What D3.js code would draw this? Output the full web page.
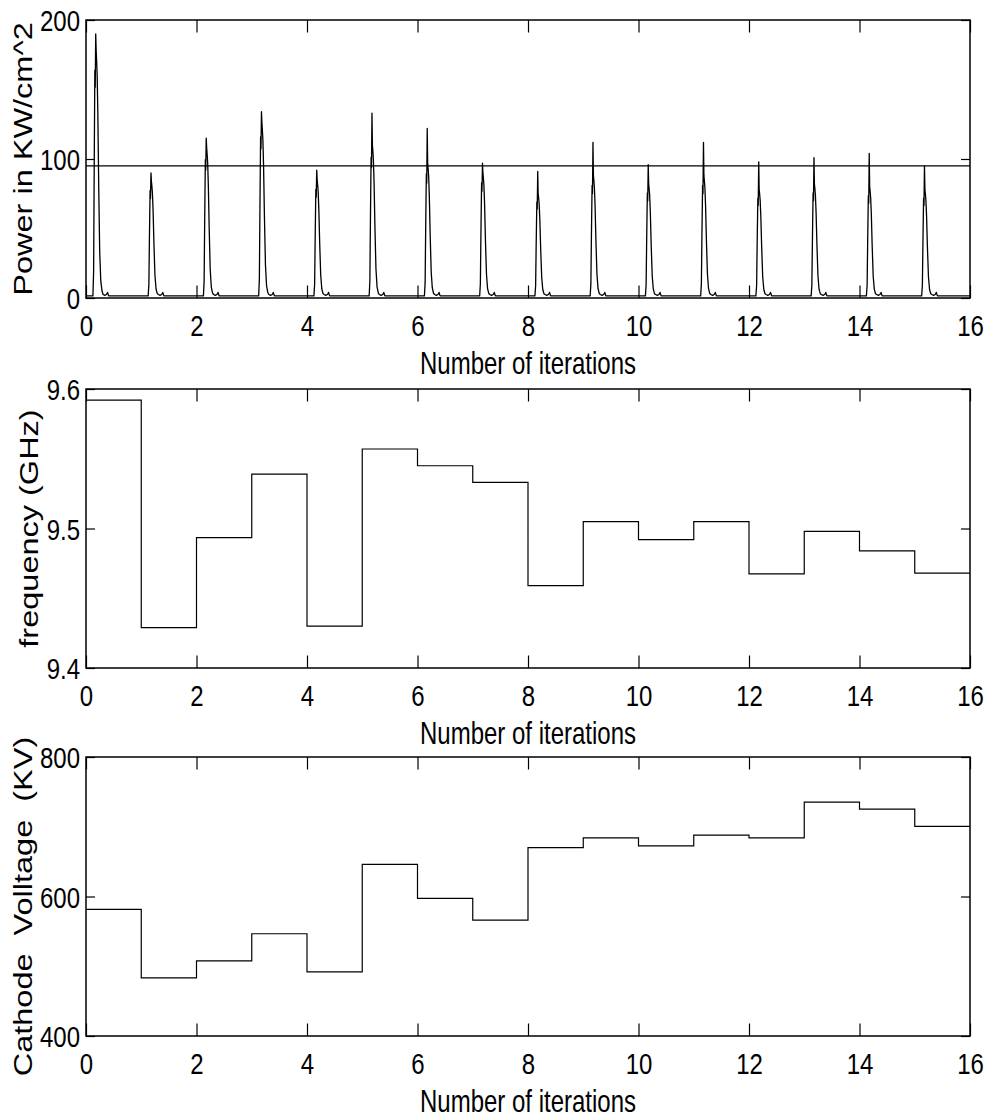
<!DOCTYPE html>
<html><head><meta charset="utf-8">
<script src="https://cdn.jsdelivr.net/npm/d3@7"></script>
<style>
body{margin:0;background:#fff}
text{font-family:"Liberation Sans",Arial,Helvetica,sans-serif;fill:#000;white-space:pre}
</style>
</head><body>
<svg id="chart" width="988" height="1119"></svg>
<script>
// ---------- data ----------
const xTicks = [0, 2, 4, 6, 8, 10, 12, 14, 16];
const xDomain = [0, 16];

// top panel: one pulse per iteration
const pulseIteration = [0, 1, 2, 3, 4, 5, 6, 7, 8, 9, 10, 11, 12, 13, 14, 15];
const pulsePeaks = [190, 90, 115, 134, 92, 133, 122, 97, 91, 112, 96, 112, 98, 101, 104, 95];
const pulseDips  = [178, 84, 108, 126, 85, 110, 97, 90, 75, 88, 82, 88, 78, 82, 80, 78];
const pulseBaseline = 1.5;
const threshold = 95;
// pulse outline key points (offset in iterations, reference level, factor)
const shapeOffsets = [0.125, 0.138, 0.148, 0.160, 0.167, 0.176, 0.184, 0.192, 0.202, 0.214, 0.230, 0.248, 0.268, 0.290, 0.310, 0.340, 0.370, 0.390, 0.410];
const shapeRef     = ['b', 'd', 'd', 'd', 'd', 'p', 'd', 'd', 'd', 'd', 'd', 'd', 'd', 'd', 'b', 'b', 'b', 'b', 'b'];
const shapeFactor  = [0, 0.10, 0.50, 0.92, 0.85, 1, 1, 0.96, 0.90, 0.75, 0.45, 0.18, 0.06, 0.02, 1.0, 0.4, 1.0, 2.5, 0];
const powerTicks = [0, 100, 200];
const powerDomain = [0, 200];

// middle panel
const freqValues = [9.592, 9.429, 9.4935, 9.539, 9.430, 9.557, 9.545, 9.533, 9.459, 9.505, 9.492, 9.505, 9.4675, 9.498, 9.484, 9.468];
const freqTicks = [9.4, 9.5, 9.6];
const freqDomain = [9.4, 9.6];

// bottom panel
const voltValues = [581.6, 483.4, 507.8, 546.6, 492, 646.2, 597.4, 566.2, 670.2, 684.1, 672.6, 687.9, 684.1, 735.3, 725.3, 700.4];
const voltTicks = [400, 600, 800];
const voltDomain = [400, 800];

// ---------- layout ----------
const L = 86, R = 970;
const SY = 1.26;         // vertical stretch of the glyphs
const FS = 24;           // tick label font size
const svg = d3.select('#chart');
const x = d3.scaleLinear().domain(xDomain).range([L, R]);

function stretchedText(parent, tx, ty, str, opts) {
  const g = parent.append('g')
    .attr('transform', `translate(${tx},${ty}) scale(1,${opts.sy || SY})${opts.rotate ? ' rotate(-90)' : ''}`);
  g.append('text')
    .attr('text-anchor', opts.anchor || 'middle')
    .style('font-size', (opts.size || FS) + 'px')
    .text(str);
  return g;
}

function panel(top, bottom, yDomain, yTicks, fmt, ylabel, ylabelX, ylabelDy) {
  const y = d3.scaleLinear().domain(yDomain).range([bottom, top]);
  const g = svg.append('g');
  const capHalf = 0.716 * FS * SY / 2;

  const styleAxis = sel => {
    sel.select('.domain').remove();
    sel.selectAll('.tick line').attr('stroke', '#000').attr('stroke-width', 1.2);
  };
  // bottom axis with labels
  const ab = g.append('g').attr('transform', `translate(0,${bottom})`)
    .call(d3.axisBottom(x).tickValues(xTicks).tickSizeInner(-12.5).tickSizeOuter(0).tickFormat(d3.format('d')));
  styleAxis(ab);
  ab.selectAll('.tick text').attr('y', null).attr('dy', null).attr('fill', '#000')
    .style('font-size', FS + 'px').attr('text-anchor', 'middle')
    .attr('transform', `translate(0,38) scale(1,${SY})`);
  // top axis ticks only
  const at = g.append('g').attr('transform', `translate(0,${top})`)
    .call(d3.axisTop(x).tickValues(xTicks).tickSizeInner(-12.5).tickSizeOuter(0).tickFormat(''));
  styleAxis(at);
  // left axis with labels
  const al = g.append('g').attr('transform', `translate(${L},0)`)
    .call(d3.axisLeft(y).tickValues(yTicks).tickSizeInner(-9).tickSizeOuter(0).tickFormat(fmt));
  styleAxis(al);
  al.selectAll('.tick text').attr('x', null).attr('dy', null).attr('fill', '#000')
    .style('font-size', FS + 'px').attr('text-anchor', 'end')
    .attr('transform', `translate(-6,${capHalf}) scale(1,${SY})`);
  // right axis ticks only
  const ar = g.append('g').attr('transform', `translate(${R},0)`)
    .call(d3.axisRight(y).tickValues(yTicks).tickSizeInner(-9).tickSizeOuter(0).tickFormat(''));
  styleAxis(ar);

  // frame
  g.append('rect').attr('x', L).attr('y', top).attr('width', R - L).attr('height', bottom - top)
    .attr('fill', 'none').attr('stroke', '#000').attr('stroke-width', 1.5);

  // x label
  stretchedText(g, (L + R) / 2, bottom + 76, 'Number of iterations', { size: 24, sy: 1.3 });
  // y label
  stretchedText(g, ylabelX, (top + bottom) / 2 + ylabelDy, ylabel, { size: 25, sy: 1.3, rotate: true });
  return { g, y };
}

// ---------- top panel ----------
const p1 = panel(20, 298, powerDomain, powerTicks, d3.format('d'), 'Power in KW/cm^2', 32, 0);
const powerPts = [[0, pulseBaseline]];
pulseIteration.forEach((n, i) => {
  shapeOffsets.forEach((o, k) => {
    let v;
    if (shapeRef[k] === 'b') v = pulseBaseline + shapeFactor[k];
    else if (shapeRef[k] === 'p') v = pulsePeaks[i] * shapeFactor[k];
    else v = pulseBaseline + shapeFactor[k] * (pulseDips[i] - pulseBaseline);
    powerPts.push([n + o, v]);
  });
});
powerPts.push([16, pulseBaseline]);
p1.g.append('path').datum(powerPts)
  .attr('fill', 'none').attr('stroke', '#000').attr('stroke-width', 1.3)
  .attr('stroke-linejoin', 'round')
  .attr('d', d3.line().x(d => x(d[0])).y(d => p1.y(d[1])));
p1.g.append('path').datum(xDomain)
  .attr('fill', 'none').attr('stroke', '#000').attr('stroke-width', 1.2)
  .attr('d', d3.line().x(d => x(d)).y(() => p1.y(threshold)));

// ---------- middle panel ----------
const p2 = panel(389, 668, freqDomain, freqTicks, d3.format('.1f'), 'frequency (GHz)', 38, 0);
const freqPts = freqValues.map((v, i) => [i, v]).concat([[16, freqValues[freqValues.length - 1]]]);
p2.g.append('path').datum(freqPts)
  .attr('fill', 'none').attr('stroke', '#000').attr('stroke-width', 1.2)
  .attr('d', d3.line().curve(d3.curveStepAfter).x(d => x(d[0])).y(d => p2.y(d[1])));

// ---------- bottom panel ----------
const p3 = panel(757, 1036, voltDomain, voltTicks, d3.format('d'), 'Cathode  Volltage  (KV)', 32, 10);
const voltPts = voltValues.map((v, i) => [i, v]).concat([[16, voltValues[voltValues.length - 1]]]);
p3.g.append('path').datum(voltPts)
  .attr('fill', 'none').attr('stroke', '#000').attr('stroke-width', 1.2)
  .attr('d', d3.line().curve(d3.curveStepAfter).x(d => x(d[0])).y(d => p3.y(d[1])));
</script>
</body></html>
